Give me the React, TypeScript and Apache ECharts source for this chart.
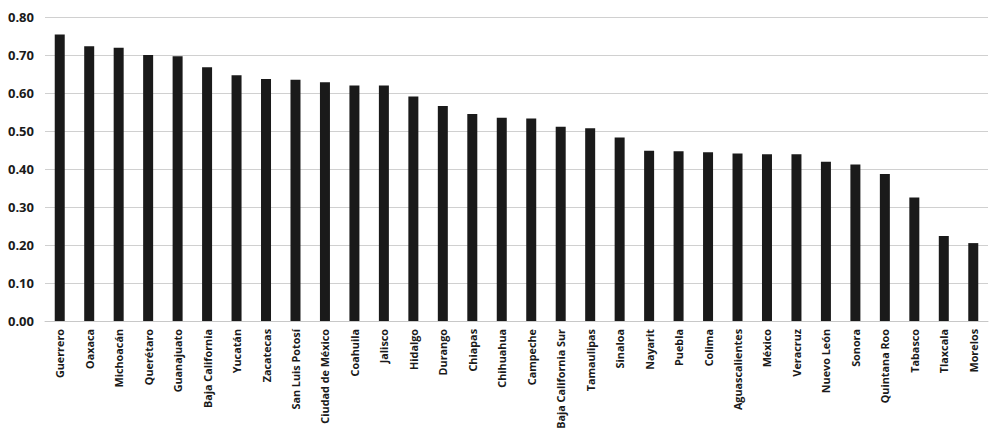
import React, { useEffect, useRef } from "react";
import * as echarts from "echarts";

const states = [
  "Guerrero", "Oaxaca", "Michoacán", "Querétaro", "Guanajuato", "Baja California",
  "Yucatán", "Zacatecas", "San Luis Potosí", "Ciudad de México", "Coahuila", "Jalisco",
  "Hidalgo", "Durango", "Chiapas", "Chihuahua", "Campeche", "Baja California Sur",
  "Tamaulipas", "Sinaloa", "Nayarit", "Puebla", "Colima", "Aguascalientes",
  "México", "Veracruz", "Nuevo León", "Sonora", "Quintana Roo", "Tabasco",
  "Tlaxcala", "Morelos",
];

const values = [
  0.754, 0.723, 0.719, 0.700, 0.697, 0.668,
  0.647, 0.637, 0.635, 0.628, 0.620, 0.620,
  0.591, 0.566, 0.545, 0.535, 0.533, 0.511,
  0.507, 0.483, 0.448, 0.447, 0.444, 0.441,
  0.439, 0.439, 0.419, 0.412, 0.387, 0.325,
  0.224, 0.205,
];

const yMin = 0;
const yMax = 0.8;
const yStep = 0.1;

export default function App() {
  const ref = useRef<HTMLDivElement>(null);

  useEffect(() => {
    if (!ref.current) return;
    const chart = echarts.init(ref.current, undefined, { renderer: "svg" });
    chart.setOption({
      animation: false,
      backgroundColor: "#ffffff",
      grid: {
        left: 45,
        right: 7,
        top: 17,
        bottom: 113,
        containLabel: false,
        outerBoundsMode: "none",
      },
      xAxis: {
        type: "category",
        data: states,
        axisLine: { show: true, lineStyle: { color: "#c8c8c8", width: 1 } },
        axisTick: { show: false },
        axisLabel: {
          rotate: 90,
          interval: 0,
          margin: 8,
          color: "#1a1a1a",
          fontFamily: "'Open Sans', sans-serif",
          fontWeight: "bold",
          fontSize: 10.8,
        },
      },
      yAxis: {
        type: "value",
        min: yMin,
        max: yMax,
        interval: yStep,
        axisLine: { show: false },
        axisTick: { show: false },
        splitLine: { lineStyle: { color: "#d0d0d0", width: 1 } },
        axisLabel: {
          margin: 11,
          color: "#1a1a1a",
          fontFamily: "'Open Sans', sans-serif",
          fontWeight: "bold",
          fontSize: 13,
          formatter: (v: number) => v.toFixed(2),
        },
      },
      series: [
        {
          type: "bar",
          data: values,
          barWidth: 10,
          itemStyle: { color: "#1a1a1a" },
        },
      ],
    });
    return () => chart.dispose();
  }, []);

  return (
    <div
      ref={ref}
      style={{ position: "fixed", left: 0, top: 0, width: 995, height: 434 }}
    />
  );
}
